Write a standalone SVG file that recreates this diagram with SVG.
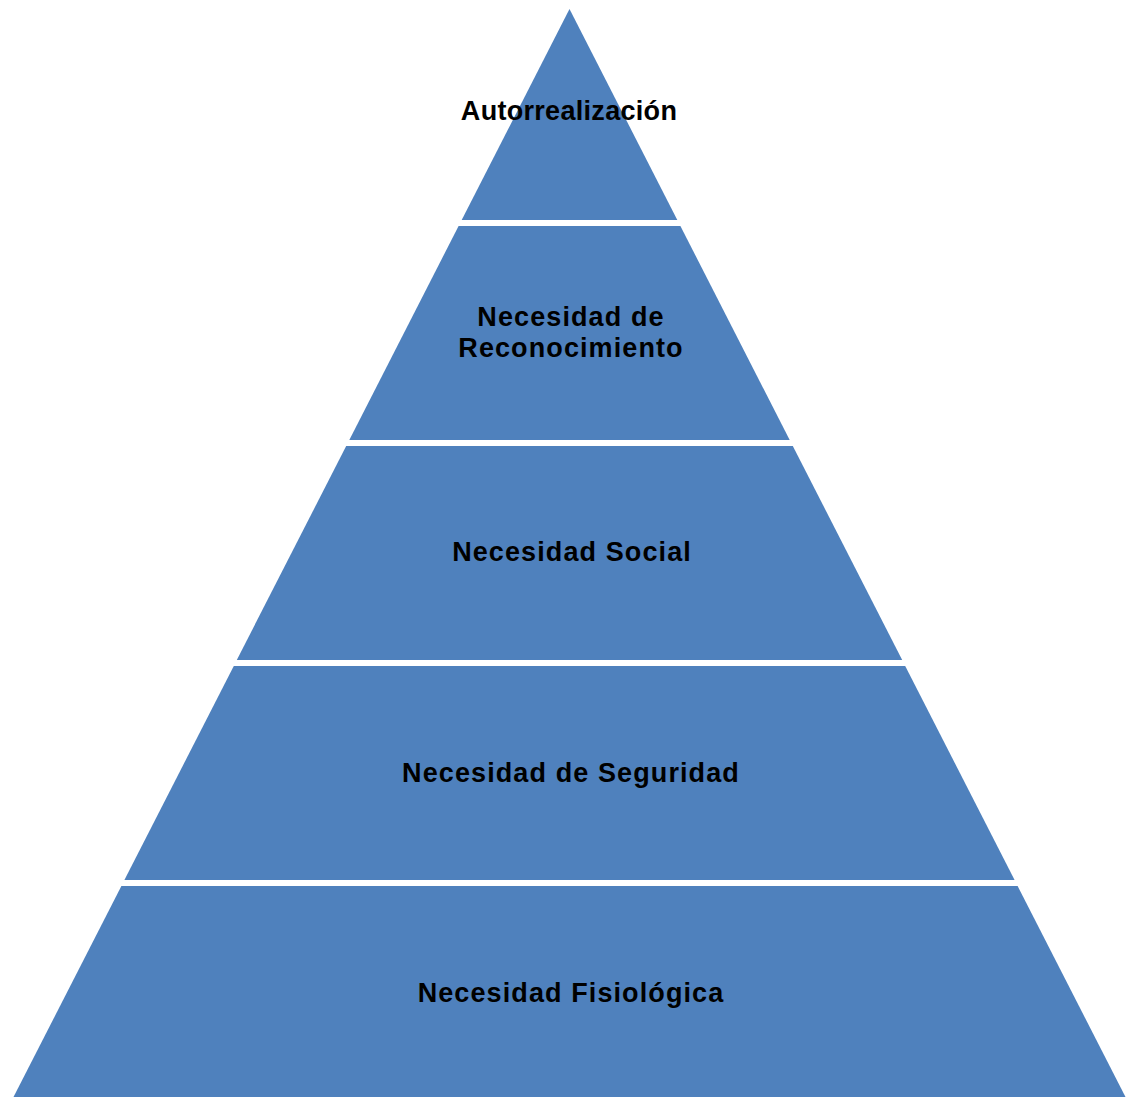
<svg xmlns="http://www.w3.org/2000/svg" width="1126" height="1097" viewBox="0 0 1126 1097">
  <style>
    .tier { fill: #4F81BD; }
    .label { font-family: "Liberation Sans", Arial, sans-serif; font-weight: bold; font-size: 27px; fill: #000; text-anchor: middle; letter-spacing: 1.1px; }
    .top { letter-spacing: 0.3px; }
  </style>
  <rect width="1126" height="1097" fill="#fff"/>
  <g id="tier-autorrealizacion">
    <polygon class="tier" points="569.5,9 677.3,220 461.7,220"/>
    <text class="label top" x="569" y="120">Autorrealización</text>
  </g>
  <g id="tier-reconocimiento">
    <polygon class="tier" points="458.6,226 680.4,226 789.7,440 349.3,440"/>
    <text class="label" x="571" y="326">Necesidad de</text>
    <text class="label" x="571" y="357">Reconocimiento</text>
  </g>
  <g id="tier-social">
    <polygon class="tier" points="346.2,446 792.8,446 902.2,660 236.8,660"/>
    <text class="label" x="572" y="561">Necesidad Social</text>
  </g>
  <g id="tier-seguridad">
    <polygon class="tier" points="233.8,666 905.2,666 1014.6,880 124.4,880"/>
    <text class="label" x="571" y="782">Necesidad de Seguridad</text>
  </g>
  <g id="tier-fisiologica">
    <polygon class="tier" points="121.4,886 1017.6,886 1125.5,1097 13.5,1097"/>
    <text class="label" x="571" y="1002">Necesidad Fisiológica</text>
  </g>
  <g id="connectors"/>
</svg>
